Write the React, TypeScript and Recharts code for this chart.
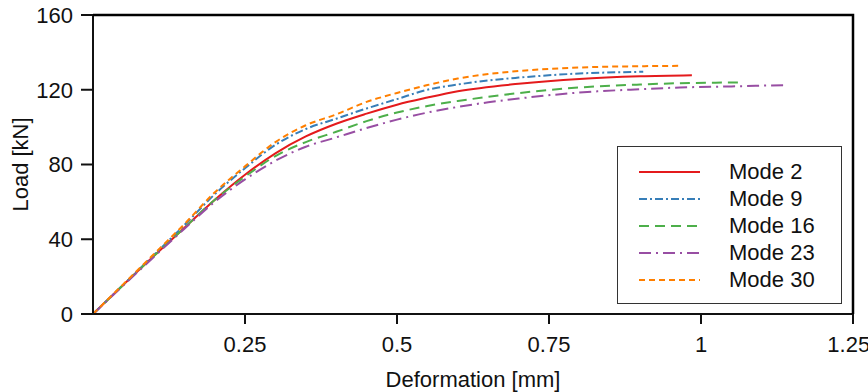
import { LineChart, Line, XAxis, YAxis, Label } from "recharts"

// deformation [mm] / load [kN]
const mode2Def = [0, 0.1, 0.15, 0.2, 0.25, 0.3, 0.35, 0.4, 0.45, 0.5, 0.55, 0.6, 0.7, 0.8, 0.9, 0.985]
const mode2Load = [0, 31, 46, 61, 74.5, 86, 95, 101.8, 107.2, 112, 115.8, 119.2, 123.2, 125.8, 127.2, 127.8]

const mode9Def = [0, 0.1, 0.15, 0.2, 0.25, 0.3, 0.35, 0.4, 0.45, 0.5, 0.55, 0.6, 0.65, 0.7, 0.8, 0.905]
const mode9Load = [0, 31.5, 47.5, 64, 78, 90.5, 99, 104.5, 110, 115, 120, 122.8, 125, 126.5, 128.7, 129.6]

const mode16Def = [0, 0.1, 0.15, 0.2, 0.25, 0.3, 0.35, 0.4, 0.45, 0.5, 0.55, 0.6, 0.65, 0.7, 0.8, 0.9, 0.965, 1.064]
const mode16Load = [0, 31, 46, 61, 73.5, 84.5, 92, 97.5, 103.2, 107.8, 111.3, 114, 116.2, 118.2, 121.2, 122.8, 123.5, 123.9]

const mode23Def = [0, 0.1, 0.15, 0.2, 0.25, 0.3, 0.35, 0.4, 0.45, 0.5, 0.55, 0.6, 0.65, 0.7, 0.8, 0.9, 0.965, 1.05, 1.141]
const mode23Load = [0, 30.5, 45.5, 60, 72, 82, 89.5, 94.5, 99.5, 104, 107.8, 110.8, 113.3, 115.3, 118.5, 120.3, 121.2, 121.8, 122.5]

const mode30Def = [0, 0.1, 0.15, 0.2, 0.25, 0.3, 0.35, 0.4, 0.45, 0.5, 0.55, 0.6, 0.65, 0.7, 0.8, 0.9, 0.965]
const mode30Load = [0, 32, 48, 65, 79, 92, 101, 106.8, 113.5, 118.3, 122.5, 126, 128.4, 130, 131.9, 132.6, 132.8]

const xTicks = [0.25, 0.5, 0.75, 1, 1.25]
const yTicks = [0, 40, 80, 120, 160]

const zip = (xs: number[], ys: number[]) => xs.map((x, i) => ({ x, y: ys[i] }))

const series = [
  { name: "Mode 2", data: zip(mode2Def, mode2Load), color: "#e41a1c", dash: undefined },
  { name: "Mode 9", data: zip(mode9Def, mode9Load), color: "#377eb8", dash: "8 3 2 3" },
  { name: "Mode 16", data: zip(mode16Def, mode16Load), color: "#4daf4a", dash: "10 6" },
  { name: "Mode 23", data: zip(mode23Def, mode23Load), color: "#984ea3", dash: "12 5 2 5" },
  { name: "Mode 30", data: zip(mode30Def, mode30Load), color: "#ff7f00", dash: "6 4" },
]

const font = "'Liberation Sans', Arial, sans-serif"
const tickStyle = { fill: "#111", fontSize: 22, fontFamily: font }

const W = 868
const H = 392
// plot area box, matches chart margins + axis sizes below
const plot = { left: 93, top: 15, right: 15, bottom: 78 }

function LegendBox() {
  return (
    <div
      style={{
        position: "absolute",
        left: 617,
        top: 146,
        width: 225,
        height: 158,
        border: "1px solid #333",
        background: "#fff",
        boxSizing: "border-box",
        paddingTop: 11,
        fontFamily: font,
        fontSize: 22,
        color: "#111",
      }}
    >
      {series.map((s) => (
        <div key={s.name} style={{ display: "flex", alignItems: "center", height: 27 }}>
          <svg width={111} height={10} style={{ flex: "none" }}>
            <line x1={21} x2={82} y1={5} y2={5} stroke={s.color} strokeWidth={2} strokeDasharray={s.dash} />
          </svg>
          <span>{s.name}</span>
        </div>
      ))}
    </div>
  )
}

export default function App() {
  return (
    <div style={{ position: "absolute", left: 0, top: 0, width: W, height: H, background: "#fff" }}>
      <LineChart width={W} height={H} margin={{ top: plot.top, right: plot.right, left: 0, bottom: 0 }}>
        <XAxis
          type="number"
          dataKey="x"
          domain={[0, 1.25]}
          ticks={xTicks}
          tick={tickStyle}
          tickSize={10}
          tickMargin={12}
          height={plot.bottom}
          stroke="#111"
          strokeWidth={2}
          allowDuplicatedCategory={false}
        >
          <Label
            value="Deformation [mm]"
            position="insideBottom"
            offset={5}
            style={{ fill: "#111", fontSize: 22, fontFamily: font }}
          />
        </XAxis>
        <YAxis
          type="number"
          domain={[0, 160]}
          ticks={yTicks}
          tick={tickStyle}
          tickSize={12}
          tickMargin={8}
          width={plot.left}
          stroke="#111"
          strokeWidth={2}
        >
          <Label
            value="Load [kN]"
            angle={-90}
            position="center"
            dx={-26}
            style={{ fill: "#111", fontSize: 22, fontFamily: font, textAnchor: "middle" }}
          />
        </YAxis>
        {series.map((s) => (
          <Line
            key={s.name}
            data={s.data}
            dataKey="y"
            name={s.name}
            type="monotone"
            stroke={s.color}
            strokeWidth={2}
            strokeDasharray={s.dash}
            dot={false}
            activeDot={false}
            isAnimationActive={false}
          />
        ))}
      </LineChart>
      {/* top and right edges of the frame */}
      <svg width={W} height={H} style={{ position: "absolute", left: 0, top: 0, pointerEvents: "none" }}>
        <polyline
          points={`${plot.left},${plot.top} ${W - plot.right},${plot.top} ${W - plot.right},${H - plot.bottom}`}
          fill="none"
          stroke="#000"
          strokeWidth={2.5}
        />
      </svg>
      <LegendBox />
    </div>
  )
}
